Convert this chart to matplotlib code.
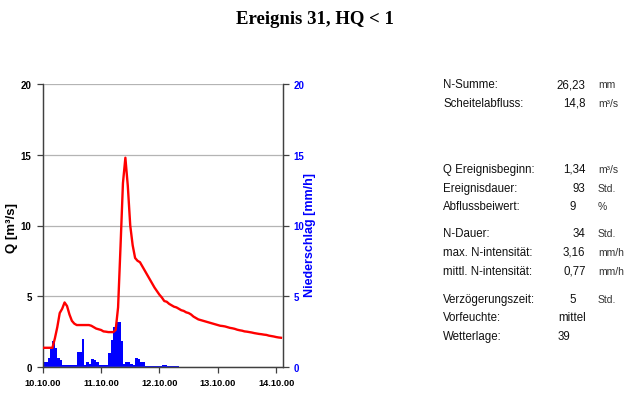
import matplotlib
matplotlib.use('Agg')
import matplotlib.pyplot as plt

plt.rcParams['font.family'] = ['Liberation Sans', 'DejaVu Sans']

# hourly discharge Q [m3/s], starting 10.10.00 00:00
q = [1.34, 1.34, 1.34, 1.34, 1.34, 2.0, 2.8, 3.8, 4.1, 4.55,
     4.3, 3.7, 3.25, 3.05, 2.95, 2.95, 2.95, 2.95, 2.95, 2.95,
     2.9, 2.8, 2.7, 2.65, 2.6, 2.5, 2.48, 2.45, 2.45, 2.45,
     2.6, 4.2, 8.5, 13.0, 14.8, 12.8, 10.0, 8.6, 7.7, 7.5,
     7.4, 7.1, 6.8, 6.5, 6.2, 5.9, 5.6, 5.35, 5.1, 4.9,
     4.65, 4.6, 4.45, 4.35, 4.25, 4.2, 4.1, 4.0, 3.95, 3.85,
     3.8, 3.7, 3.55, 3.45, 3.35, 3.3, 3.25, 3.2, 3.15, 3.1,
     3.05, 3.0, 2.95, 2.9, 2.88, 2.85, 2.8, 2.75, 2.72, 2.68,
     2.62, 2.58, 2.55, 2.5, 2.48, 2.45, 2.42, 2.38, 2.35, 2.32,
     2.3, 2.27, 2.25, 2.2, 2.17, 2.14, 2.1, 2.07, 2.05]

# hourly precipitation [mm/h]
rain = [0.35, 0.35, 0.6, 1.25, 1.85, 1.3, 0.65, 0.5, 0.15, 0.15,
        0.15, 0.15, 0.15, 0.1, 1.05, 1.05, 1.95, 0.15, 0.3, 0.2,
        0.55, 0.5, 0.3, 0.15, 0.15, 0.15, 0.15, 1.0, 1.9, 2.8,
        3.16, 3.16, 1.8, 0.2, 0.35, 0.3, 0.2, 0.15, 0.65, 0.55,
        0.3, 0.35, 0.05, 0.05, 0.05, 0.05, 0.05, 0.05, 0.05, 0.1,
        0.1, 0.05, 0.05, 0.05, 0.05, 0.05]

xticklabels = ['10.10.00', '11.10.00', '12.10.00', '13.10.00', '14.10.00']

labels = ['N-Summe:', 'Scheitelabfluss:', 'Q Ereignisbeginn:', 'Ereignisdauer:',
          'Abflussbeiwert:', 'N-Dauer:', 'max. N-intensität:', 'mittl. N-intensität:',
          'Verzögerungszeit:', 'Vorfeuchte:', 'Wetterlage:']
values = ['26,23', '14,8', '1,34', '93', '9', '34', '3,16', '0,77', '5', 'mittel', '39']
units = ['mm', 'm³/s', 'm³/s', 'Std.', '%', 'Std.', 'mm/h', 'mm/h', 'Std.', '', '']

W, H = 643, 402
fig = plt.figure(figsize=(W / 100, H / 100), dpi=100)
ax = fig.add_axes([42.7 / W, 1 - 367.7 / H, 240 / W, 282.4 / H])
ax2 = ax.twinx()
ax.set_zorder(ax2.get_zorder() + 1)
ax.patch.set_visible(False)

hours = list(range(len(q)))
ax.plot(hours, q, color='#ff0000', lw=1.7, zorder=3)
ax2.bar(range(len(rain)), rain, width=1, align='edge', color='#0000ff', lw=0)

ax.set_xlim(0, 98.7)
ax.set_ylim(0, 20)
ax2.set_ylim(0, 20)
ax.set_yticks([0, 5, 10, 15, 20])
ax2.set_yticks([0, 5, 10, 15, 20])
ax.set_xticks([0, 24, 48, 72, 96])
ax.set_xticklabels(xticklabels)
ax.yaxis.grid(True, color='#b4b4b4', lw=0.9)
ax.set_axisbelow(True)

for a in (ax, ax2):
    a.spines['top'].set_visible(False)
    for s in ('left', 'right', 'bottom'):
        a.spines[s].set_color('#404040')
        a.spines[s].set_linewidth(0.9)
ax.tick_params(axis='both', length=4, width=0.9, color='#404040', labelsize=7, pad=4)
ax2.tick_params(axis='y', length=4, width=0.9, color='#404040', labelsize=7,
                labelcolor='#0000ff', pad=4)
ax.tick_params(axis='x', labelsize=6.7, pad=4)
for t in ax.get_xticklabels() + ax.get_yticklabels() + ax2.get_yticklabels():
    t.set_fontweight('bold')

ax.set_ylabel('Q [m³/s]', fontsize=9.5, fontweight='bold', va='center')
ax.yaxis.set_label_coords(-0.13, 0.494)
ax2.set_ylabel('Niederschlag [mm/h]', fontsize=9, fontweight='bold',
               color='#0000ff', va='center')
ax2.yaxis.set_label_coords(1.115, 0.47)

fig.text(315 / W, 1 - 20 / H, 'Ereignis 31, HQ < 1', ha='center', va='center',
         fontsize=13.5, fontweight='bold', family='Liberation Serif')

rows_y = [85, 104, 170, 189, 207, 234, 253, 272, 300, 318, 337]
for lab, val, unit, y in zip(labels, values, units, rows_y):
    yy = 1 - y / H
    fig.text(443 / W, yy, lab, ha='left', va='center', fontsize=8.3, color='#111111')
    if val in ('mittel', '39'):
        fig.text(558 / W, yy, val, ha='left', va='center', fontsize=8.3, color='#111111')
    else:
        xr = 585.5 if len(val) > 1 else 576
        fig.text(xr / W, yy, val, ha='right', va='center', fontsize=8.3, color='#111111')
    if unit:
        fig.text(598 / W, yy, unit, ha='left', va='center', fontsize=7.5, color='#333333')

fig.savefig('out.png', dpi=100)
